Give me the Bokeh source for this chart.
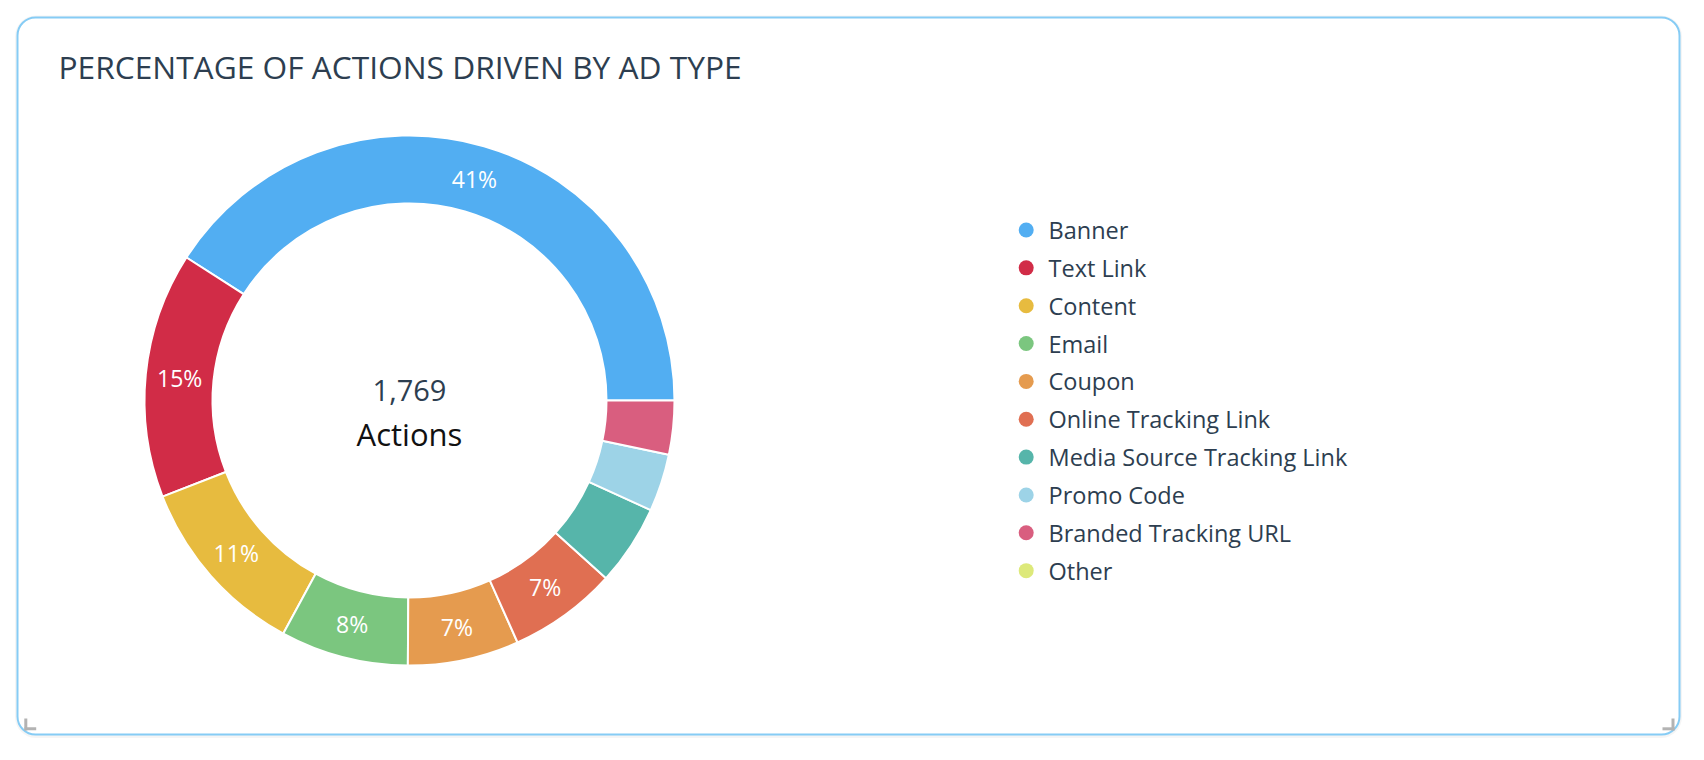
import numpy as np
from bokeh.plotting import figure
from bokeh.models import Range1d, BoxAnnotation, ColumnDataSource
from bokeh.core.properties import value
from bokeh.embed import file_html
from bokeh.resources import INLINE

# ---------------- data ----------------
title = "PERCENTAGE OF ACTIONS DRIVEN BY AD TYPE"
categories = ["Banner", "Text Link", "Content", "Email", "Coupon",
              "Online Tracking Link", "Media Source Tracking Link",
              "Promo Code", "Branded Tracking URL", "Other"]
actions = [724, 265, 198, 138, 120, 117, 87, 62, 58, 0]
colors = ["#52aef2", "#d12c47", "#e7bb3f", "#7bc67f", "#e59b4f",
          "#e06f52", "#56b5aa", "#9dd3e7", "#d95e7f", "#dde97a"]
center_label = "Actions"
label_min_pct = 6.5

# ---------------- layout ----------------
W, H = 1704, 760
FONT = "Open Sans"
DARK = "#2d3e50"
cx, cy = 409, H - 400
R_OUT, R_IN = 265, 197

def sy(y):
    return H - y

p = figure(width=W, height=H, x_range=Range1d(0, W), y_range=Range1d(0, H),
           x_axis_type=None, y_axis_type=None, toolbar_location=None,
           output_backend="svg", min_border=0)
p.outline_line_color = None
p.background_fill_color = "white"
p.border_fill_color = "white"
p.grid.visible = False

# card with soft shadow
shadow = BoxAnnotation(left=14.5, right=1681.5, bottom=sy(737.5), top=sy(15),
                       fill_color="#000000", fill_alpha=0.04, line_color=None,
                       border_radius=21, level="image")
card = BoxAnnotation(left=17, right=1679, bottom=sy(734), top=sy(17),
                     fill_color="white", fill_alpha=1.0, line_color="#86ccf5",
                     line_alpha=1.0, line_width=2, border_radius=18,
                     level="underlay")
p.add_layout(shadow)
p.add_layout(card)

# resize corner markers
p.multi_line(xs=[[25.3, 25.3], [24, 35.7], [1672.5, 1672.5], [1662, 1674]],
             ys=[[sy(718), sy(730)], [sy(728.3), sy(728.3)],
                 [sy(718), sy(730)], [sy(728.3), sy(728.3)]],
             line_color="#b3b3b3", line_width=3)

# donut
vals = np.array(actions, dtype=float)
total = vals.sum()
frac = vals / total
ends = np.cumsum(frac) * 2 * np.pi
starts = np.concatenate([[0.0], ends[:-1]])
nz = vals > 0
src = ColumnDataSource(dict(cat=[c for c, k in zip(categories, nz) if k],
                            start=starts[nz], end=ends[nz],
                            color=[c for c, k in zip(colors, nz) if k]))
p.annular_wedge(x=cx, y=cy, inner_radius=R_IN, outer_radius=R_OUT,
                start_angle="start", end_angle="end", fill_color="color",
                line_color="white", line_width=2, source=src)

# slice labels
pct = frac * 100
mid = (starts + ends) / 2
rm = (R_IN + R_OUT) / 2
show = pct >= label_min_pct
lab_src = ColumnDataSource(dict(
    x=cx + rm * np.cos(mid[show]),
    y=cy + rm * np.sin(mid[show]),
    t=[f"{round(v)}%" for v in pct[show]]))
p.text(x="x", y="y", text="t", source=lab_src, text_align="center",
       text_baseline="middle", text_color="white", text_font=value(FONT),
       text_font_size="23px")

# center text
p.text(x=[cx], y=[sy(390)], text=[f"{int(total):,}"], text_align="center",
       text_baseline="middle", text_color=DARK, text_font=value(FONT),
       text_font_size="29px")
p.text(x=[cx], y=[sy(433)], text=[center_label], text_align="center",
       text_baseline="middle", text_color="#111111", text_font=value(FONT),
       text_font_size="31px")

# title
p.text(x=[58], y=[sy(65.5)], text=[title], text_align="left",
       text_baseline="middle", text_color=DARK, text_font=value(FONT),
       text_font_size="31.7px")

# legend
idx = np.arange(len(categories))
leg_y = sy(229.5 + idx * 37.85)
leg_src = ColumnDataSource(dict(x=np.full(len(idx), 1025.7), tx=np.full(len(idx), 1048.0),
                                y=leg_y, cat=categories, color=colors))
p.scatter(x="x", y="y", marker="circle", size=15, fill_color="color",
          line_color=None, source=leg_src)
p.text(x="tx", y="y", text="cat", source=leg_src, text_align="left",
       text_baseline="middle", text_color=DARK, text_font=value(FONT),
       text_font_size="23.5px")

open("out.html", "w").write(file_html(p, INLINE))
